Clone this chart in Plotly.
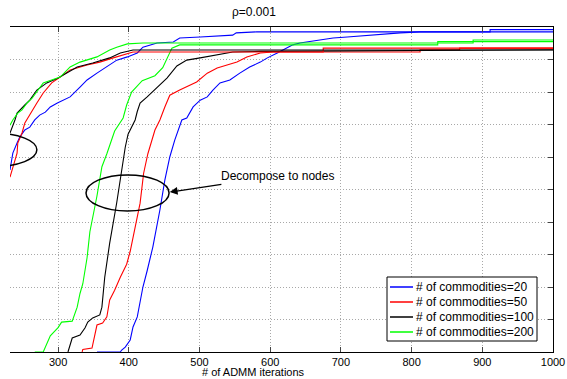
import plotly.graph_objects as go

# ---- data (x = # of ADMM iterations, y = fraction) ----
commodities = ["20", "50", "100", "200"]
colors = ["#0000ff", "#ff0000", "#000000", "#00ff00"]

# "Decompose to zones of nodes" group (upper-left curves)
zones_x = {
    "20": [232, 235, 236, 242, 246, 253, 260, 267, 274, 282, 289, 299, 307, 317, 331, 341, 355, 369, 383, 398, 412, 420, 440, 463, 472, 501, 547, 552, 581, 911, 911, 1000],
    "50": [232, 236, 242, 243, 249, 253, 258, 263, 270, 279, 291, 303, 317, 341, 359, 378, 392, 406, 675, 675, 1000],
    "100": [232, 235, 239, 242, 246, 253, 260, 270, 284, 300, 327, 349, 373, 388, 406, 1000],
    "200": [232, 236, 243, 249, 256, 263, 279, 303, 317, 331, 355, 373, 383, 398, 420, 887, 887, 1000],
}
zones_y = {
    "20": [0.56, 0.591, 0.612, 0.643, 0.662, 0.683, 0.692, 0.714, 0.729, 0.738, 0.754, 0.766, 0.775, 0.785, 0.815, 0.837, 0.858, 0.877, 0.898, 0.908, 0.92, 0.938, 0.951, 0.954, 0.966, 0.969, 0.975, 0.982, 0.985, 0.985, 0.992, 0.992],
    "50": [0.538, 0.569, 0.612, 0.643, 0.674, 0.705, 0.723, 0.745, 0.766, 0.797, 0.828, 0.846, 0.868, 0.883, 0.892, 0.905, 0.914, 0.923, 0.923, 0.935, 0.935],
    "100": [0.674, 0.689, 0.714, 0.735, 0.745, 0.76, 0.775, 0.806, 0.828, 0.843, 0.877, 0.889, 0.905, 0.92, 0.929, 0.929],
    "200": [0.698, 0.714, 0.735, 0.745, 0.766, 0.78, 0.828, 0.846, 0.877, 0.892, 0.908, 0.929, 0.938, 0.948, 0.951, 0.951, 0.96, 0.96],
}

# "Decompose to nodes" group (steep curves)
nodes_x = {
    "20": [355, 388, 390, 395, 402, 406, 412, 416, 420, 426, 432, 434, 444, 451, 458, 465, 475, 482, 491, 501, 511, 519, 529, 543, 557, 571, 586, 596, 610, 618, 632, 642, 652, 666, 689, 709, 741, 784, 812, 1000],
    "50": [334, 335, 348, 355, 363, 369, 373, 380, 388, 397, 402, 409, 416, 421, 427, 437, 444, 451, 458, 472, 496, 511, 525, 539, 553, 567, 586, 604, 812, 812, 868, 868, 1000],
    "100": [314, 320, 331, 338, 342, 349, 359, 362, 366, 371, 373, 383, 388, 395, 399, 409, 412, 416, 426, 440, 454, 468, 482, 501, 525, 547, 586, 1000],
    "200": [267, 279, 289, 300, 305, 320, 327, 331, 335, 341, 345, 355, 362, 369, 380, 392, 397, 404, 419, 437, 448, 455, 461, 472, 543, 837, 837, 1000],
}
nodes_y = {
    "20": [0, 0, 0.006, 0.015, 0.037, 0.077, 0.108, 0.16, 0.2, 0.25, 0.31, 0.323, 0.437, 0.529, 0.6, 0.652, 0.714, 0.72, 0.754, 0.775, 0.785, 0.806, 0.828, 0.837, 0.858, 0.877, 0.892, 0.905, 0.92, 0.929, 0.945, 0.951, 0.954, 0.96, 0.966, 0.969, 0.975, 0.982, 0.985, 0.985],
    "50": [0, 0.008, 0.012, 0.083, 0.089, 0.108, 0.16, 0.19, 0.23, 0.27, 0.31, 0.385, 0.458, 0.55, 0.61, 0.683, 0.714, 0.754, 0.79, 0.806, 0.831, 0.858, 0.874, 0.883, 0.892, 0.908, 0.92, 0.923, 0.923, 0.93, 0.93, 0.935, 0.935],
    "100": [0, 0.043, 0.052, 0.074, 0.092, 0.105, 0.114, 0.138, 0.23, 0.31, 0.335, 0.46, 0.53, 0.63, 0.67, 0.714, 0.74, 0.766, 0.785, 0.815, 0.843, 0.88, 0.898, 0.905, 0.914, 0.923, 0.925, 0.93],
    "200": [0, 0, 0.05, 0.075, 0.092, 0.095, 0.138, 0.18, 0.21, 0.29, 0.37, 0.48, 0.57, 0.61, 0.68, 0.72, 0.76, 0.8, 0.835, 0.85, 0.875, 0.905, 0.935, 0.945, 0.945, 0.945, 0.955, 0.955],
}

x_ticks = [300, 400, 500, 600, 700, 800, 900, 1000]
y_ticks = [0, 0.1, 0.2, 0.3, 0.4, 0.5, 0.6, 0.7, 0.8, 0.9, 1.0]

title_text = "ρ=0.001"
x_label = "# of ADMM iterations"
arrow_text = "Decompose to nodes"
zones_text = "zones of nodes"
legend_labels = ["# of commodities=" + c for c in commodities]

FONT = "Liberation Sans, Arial, sans-serif"
FS = 12

# plot area in pixels
L, R, T, B = 10, 553, 27, 352
W, H = 567, 379


def px(xp):
    return (xp - L) / (R - L)


def py(yp):
    return (B - yp) / (B - T)


fig = go.Figure()
for c, col in zip(commodities, colors):
    fig.add_trace(go.Scatter(
        x=nodes_x[c], y=nodes_y[c], mode="lines",
        line=dict(color=col, width=1.1), name="# of commodities=" + c,
        showlegend=False, legendgroup=c))
for c, col in zip(commodities, colors):
    fig.add_trace(go.Scatter(
        x=zones_x[c], y=zones_y[c], mode="lines",
        line=dict(color=col, width=1.1), name="# of commodities=" + c,
        showlegend=False, legendgroup=c))

# ellipses
fig.add_shape(type="circle", xref="x", yref="y", x0=339.5, x1=457, y0=0.434, y1=0.545,
              line=dict(color="black", width=1.5))
fig.add_shape(type="circle", xref="x", yref="y", x0=152, x1=270, y0=0.571, y1=0.673,
              line=dict(color="black", width=1.5))

fig.add_annotation(x=458, y=0.492, ax=611, ay=0.542, xref="x", yref="y", axref="x", ayref="y",
                   text=arrow_text, showarrow=True, arrowhead=2, arrowsize=1.2, arrowwidth=1.3,
                   arrowcolor="black", standoff=0, font=dict(family=FONT, size=FS, color="black"))
fig.add_annotation(x=229, y=0.951, xref="x", yref="y", text=zones_text, showarrow=False,
                   xanchor="left", yanchor="middle", font=dict(family=FONT, size=FS, color="black"))
fig.add_annotation(x=px(254), y=py(12), xref="paper", yref="paper",
                   text=title_text, showarrow=False, xanchor="center", yanchor="middle",
                   font=dict(family=FONT, size=FS, color="black"))
fig.add_annotation(x=px(253), y=py(379), xref="paper", yref="paper",
                   text=x_label, showarrow=False, xanchor="center", yanchor="bottom", borderpad=0,
                   font=dict(family=FONT, size=11, color="black"))

# custom legend (box, line samples, labels)
fig.add_shape(type="rect", xref="paper", yref="paper", x0=px(387), x1=px(537), y0=py(341), y1=py(277),
              line=dict(color="black", width=1), fillcolor="white", layer="above")
row_y = [287, 302, 317, 332]
for lab, col, ry in zip(legend_labels, colors, row_y):
    fig.add_shape(type="line", xref="paper", yref="paper", x0=px(390), x1=px(413), y0=py(ry), y1=py(ry),
                  line=dict(color=col, width=1.5), layer="above")
    fig.add_annotation(x=px(414), y=py(ry), xref="paper", yref="paper", text=lab, showarrow=False,
                       xanchor="left", yanchor="middle", font=dict(family=FONT, size=FS, color="black"))

fig.update_xaxes(range=[232, 1000], tickvals=x_ticks, ticks="inside", ticklen=5,
                 showline=True, linecolor="black", linewidth=1, mirror="ticks",
                 showgrid=True, gridcolor="#a8a8a8", griddash="1px,2px", gridwidth=1,
                 tickfont=dict(family=FONT, size=11, color="black"), zeroline=False,
                 automargin=False)
fig.update_yaxes(range=[0, 1], tickvals=y_ticks, side="right", ticks="inside", ticklen=5,
                 showline=True, linecolor="black", linewidth=1, showticklabels=False,
                 showgrid=True, gridcolor="#a8a8a8", griddash="1px,2px", gridwidth=1, zeroline=False,
                 automargin=False)

fig.update_layout(
    width=W, height=H, margin=dict(l=L, r=W - R, t=T, b=H - B),
    plot_bgcolor="white", paper_bgcolor="white",
    font=dict(family=FONT, size=FS, color="black"),
    showlegend=False,
)

fig.write_html("out.html")
